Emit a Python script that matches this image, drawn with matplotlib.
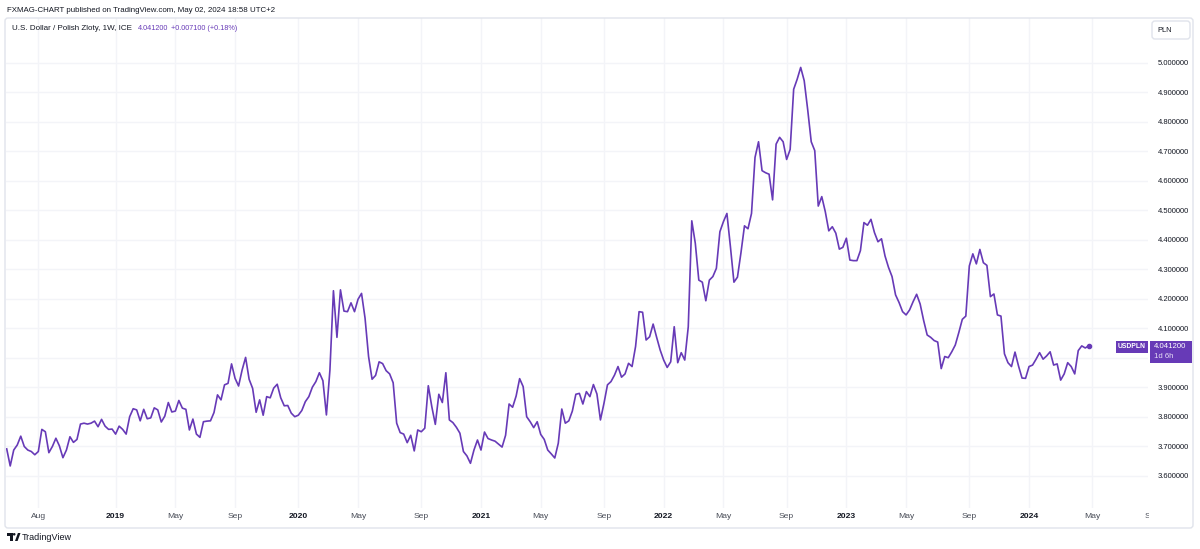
import numpy as np
import pandas as pd
import matplotlib
matplotlib.use("Agg")
import matplotlib.pyplot as plt
import matplotlib.dates as mdates
import matplotlib.transforms as mtransforms
from matplotlib.patches import Rectangle, FancyBboxPatch, Polygon, Circle

plt.rcParams['font.family'] = ['Liberation Sans', 'DejaVu Sans']

# weekly closes USD/PLN (first bar week of 2018-06-04)
usdpln = [
    3.692, 3.634, 3.688, 3.705, 3.735, 3.700, 3.688, 3.683, 3.672, 3.683,
    3.758, 3.750, 3.679, 3.700, 3.728, 3.702, 3.662, 3.688, 3.733, 3.714,
    3.724, 3.776, 3.779, 3.776, 3.779, 3.786, 3.767, 3.792, 3.769, 3.758,
    3.759, 3.742, 3.769, 3.758, 3.742, 3.801, 3.828, 3.824, 3.787, 3.826,
    3.794, 3.797, 3.831, 3.824, 3.783, 3.803, 3.849, 3.817, 3.820, 3.856,
    3.830, 3.826, 3.756, 3.793, 3.742, 3.731, 3.784, 3.786, 3.787, 3.815,
    3.875, 3.858, 3.909, 3.914, 3.980, 3.931, 3.905, 3.959, 4.002, 3.928,
    3.897, 3.816, 3.858, 3.806, 3.869, 3.865, 3.898, 3.911, 3.865, 3.838,
    3.839, 3.813, 3.801, 3.806, 3.822, 3.852, 3.869, 3.901, 3.920, 3.950,
    3.923, 3.807, 3.959, 4.228, 4.070, 4.231, 4.159, 4.157, 4.187, 4.157,
    4.199, 4.219, 4.135, 4.005, 3.928, 3.941, 3.987, 3.981, 3.957, 3.946,
    3.916, 3.779,
    3.747, 3.742, 3.713, 3.738, 3.685, 3.756, 3.750, 3.762, 3.906, 3.835,
    3.775, 3.877, 3.849, 3.950, 3.790, 3.781, 3.765, 3.745, 3.683, 3.668,
    3.643, 3.688, 3.722, 3.688, 3.749, 3.727, 3.722, 3.718, 3.708, 3.698,
    3.738, 3.844, 3.833, 3.871, 3.930, 3.903, 3.801, 3.784, 3.764, 3.784,
    3.741, 3.724, 3.688, 3.675, 3.661, 3.711, 3.827, 3.779, 3.787, 3.820,
    3.877, 3.880, 3.844, 3.886, 3.869, 3.910, 3.878, 3.790, 3.846, 3.909,
    3.920, 3.942, 3.971, 3.935, 3.946, 3.982, 3.971, 4.039, 4.157, 4.155,
    4.061,
    4.072, 4.115, 4.070, 4.027, 3.993, 3.968, 3.987, 4.106, 3.984, 4.018,
    3.993, 4.106, 4.465, 4.389, 4.264, 4.257, 4.194, 4.264, 4.276, 4.304,
    4.428, 4.462, 4.490, 4.377, 4.257, 4.274, 4.357, 4.448, 4.438, 4.490,
    4.680, 4.733, 4.635, 4.628, 4.623, 4.536, 4.725, 4.748, 4.733, 4.673,
    4.707, 4.911, 4.945, 4.985, 4.940, 4.841, 4.733, 4.703, 4.515, 4.547,
    4.496, 4.431, 4.445, 4.423, 4.369, 4.375, 4.406,
    4.332, 4.330, 4.330, 4.364, 4.459, 4.450, 4.470, 4.425, 4.394, 4.404,
    4.346, 4.307, 4.276, 4.214, 4.188, 4.157, 4.146, 4.163, 4.191, 4.216,
    4.183, 4.127, 4.078, 4.070, 4.059, 4.054, 3.964, 4.005, 4.001, 4.021,
    4.044, 4.086, 4.131, 4.142, 4.312, 4.353, 4.319, 4.368, 4.323, 4.314,
    4.208, 4.217, 4.146, 4.142, 4.014, 3.984, 3.971, 4.020, 3.973, 3.932,
    3.931, 3.971, 3.976, 3.996, 4.018, 3.996, 4.007, 4.021, 3.976, 3.980,
    3.925, 3.946, 3.984, 3.971, 3.946, 4.025, 4.041, 4.034, 4.0412,
]
weeks = pd.date_range('2018-06-04', periods=len(usdpln), freq='7D')

price_ticks = [3.6, 3.7, 3.8, 3.9, 4.0, 4.1, 4.2, 4.3, 4.4, 4.5, 4.6, 4.7, 4.8, 4.9, 5.0]

tick_dates = ['2018-08-06', '2019-01-07', '2019-05-06', '2019-09-02', '2020-01-06',
              '2020-05-04', '2020-09-07', '2021-01-04', '2021-05-03', '2021-09-06',
              '2022-01-03', '2022-05-02', '2022-09-05', '2023-01-02', '2023-05-01',
              '2023-09-04', '2024-01-01', '2024-05-06', '2024-09-02']
tick_labels = ['Aug', '2019', 'May', 'Sep', '2020', 'May', 'Sep', '2021', 'May', 'Sep',
               '2022', 'May', 'Sep', '2023', 'May', 'Sep', '2024', 'May', 'Sep']

last_price = "4.041200"
change = "+0.007100 (+0.18%)"

W, H = 1200, 549
purple = '#673ab7'
txt = '#131722'
grid = '#f3f4f8'

fig = plt.figure(figsize=(W / 100, H / 100), dpi=100)
fig.patch.set_facecolor('white')


def fx(px):
    return px / W


def fy(py):
    return 1 - py / H


ax = fig.add_axes([fx(6), fy(508), fx(1148) - fx(6), fy(18) - fy(508)])
ax.plot(weeks, usdpln, color=purple, lw=1.2, zorder=3)
ax.plot(weeks[-1:], usdpln[-1:], 'o', ms=3, color=purple, zorder=4)
ax.set_ylim(3.4915, 5.1525)
ax.set_xlim(weeks[0] - pd.Timedelta(days=1.4), weeks[0] + pd.Timedelta(days=2274))
for s in ax.spines.values():
    s.set_visible(False)

# the 4.000000 label sits under the last-price badge, so it is left blank
ax.set_yticks(price_ticks)
ax.set_yticklabels(['' if v == 4.0 else '%.6f' % v for v in price_ticks])
ax.yaxis.tick_right()
ax.tick_params(axis='y', length=0, pad=7, labelsize=5.5, labelcolor=txt)
ax.set_xticks([])
ax.grid(axis='y', color=grid, lw=1, zorder=0)
for d in tick_dates:
    ax.axvline(pd.Timestamp(d), color=grid, lw=1, zorder=0)

# time scale labels
trans = mtransforms.blended_transform_factory(ax.transData, fig.transFigure)
clip = mtransforms.Bbox.from_extents(0, 0, 1149, H)
for d, lab in zip(tick_dates, tick_labels):
    bold = lab.isdigit()
    t = fig.text(mdates.date2num(pd.Timestamp(d)), fy(517), lab, transform=trans,
                 ha='center', va='center', fontsize=6.1,
                 color=txt if bold else '#4a4e59',
                 fontweight='bold' if bold else 'normal')
    t.set_clip_box(clip)
    t.set_clip_on(True)

# frame
fig.patches.append(FancyBboxPatch((5, H - 528), 1188, 510, boxstyle='round,pad=0,rounding_size=3',
                                  transform=None, fill=False, ec='#e0e3eb', lw=1))

# header texts
fig.text(fx(7), fy(10), "FXMAG-CHART published on TradingView.com, May 02, 2024 18:58 UTC+2",
         fontsize=5.7, color=txt, va='center')
fig.text(fx(12), fy(29), "U.S. Dollar / Polish Zloty, 1W, ICE", fontsize=5.8, color=txt, va='center')
fig.text(fx(138), fy(29), last_price, fontsize=5.2, color=purple, va='center')
fig.text(fx(171), fy(29), change, fontsize=5.2, color=purple, va='center')

# currency box
fig.patches.append(FancyBboxPatch((1152, H - 39), 38, 18, boxstyle='round,pad=0,rounding_size=3',
                                  transform=None, fc='white', ec='#e0e3eb', lw=1))
fig.text(fx(1157), fy(30), "PLN", fontsize=5.3, color=txt, va='center')

# last price labels
fig.patches.append(Rectangle((1115.7, H - 352.7), 32.6, 12, transform=None, fc=purple, ec='none', zorder=5))
fig.patches.append(Rectangle((1150, H - 362.7), 42, 22, transform=None, fc=purple, ec='none', zorder=5))
fig.text(fx(1132), fy(346.7), "USDPLN", fontsize=4.9, color='white', ha='center', va='center',
         fontweight='bold', zorder=6)
fig.text(fx(1154), fy(346.5), last_price, fontsize=5.6, color='white', va='center', zorder=6)
fig.text(fx(1154), fy(357), "1d 6h", fontsize=5.6, color='#e6ddf5', va='center', zorder=6)

# TradingView logo
fig.patches.append(Polygon([(7, H - 533), (12.5, H - 533), (12.5, H - 541), (10.2, H - 541),
                            (10.2, H - 535.5), (7, H - 535.5)], closed=True, transform=None,
                           fc=txt, ec='none'))
fig.patches.append(Circle((14.2, H - 534.3), 1.3, transform=None, fc=txt, ec='none'))
fig.patches.append(Polygon([(15, H - 541), (17.6, H - 541), (20.5, H - 533), (17.9, H - 533)],
                           closed=True, transform=None, fc=txt, ec='none'))
fig.text(fx(22), fy(537), "TradingView", fontsize=6.5, color=txt, va='center')

fig.savefig('out.png', dpi=100)
